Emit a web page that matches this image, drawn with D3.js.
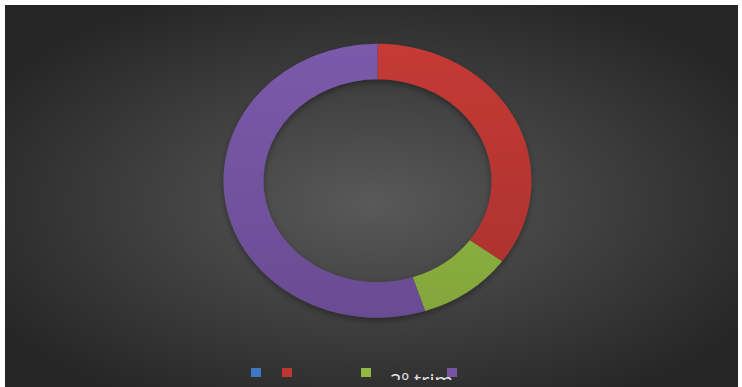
<!DOCTYPE html>
<html>
<head>
<meta charset="utf-8">
<script src="https://cdn.jsdelivr.net/npm/d3@7/dist/d3.min.js"></script>
<style>
  html, body { margin: 0; padding: 0; background: #ffffff; }
  svg { display: block; }
</style>
</head>
<body>
<svg id="chart"></svg>
<script>
// chart data
var categories = ["1º trim", "2º trim", "3º trim", "4º trim"];
var values = [0, 35, 10, 55];
var colors = ["#3f77c2", "#bb3732", "#92b843", "#7555a2"];
var legendLabels = ["", "", "2º trim", ""];

var W = 742, H = 387;
var svg = d3.select("#chart").attr("width", W).attr("height", H);
var defs = svg.append("defs");

// background gradient
var bg = defs.append("radialGradient").attr("id", "bg")
    .attr("cx", "50%").attr("cy", "52%").attr("r", "60%");
bg.append("stop").attr("offset", "0%").attr("stop-color", "#595959");
bg.append("stop").attr("offset", "100%").attr("stop-color", "#262626");

svg.append("rect")
    .attr("x", 5).attr("y", 5)
    .attr("width", 733).attr("height", H - 5)
    .attr("fill", "url(#bg)");

// slice shading, light at top, darker at bottom
colors.forEach(function (c, i) {
    var g = defs.append("linearGradient").attr("id", "sl" + i)
        .attr("gradientUnits", "userSpaceOnUse")
        .attr("x1", 0).attr("y1", -154).attr("x2", 0).attr("y2", 154);
    g.append("stop").attr("offset", "0%").attr("stop-color", d3.color(c).brighter(0.15));
    g.append("stop").attr("offset", "100%").attr("stop-color", d3.color(c).darker(0.3));
});

var shadow = defs.append("filter").attr("id", "shadow")
    .attr("x", "-20%").attr("y", "-20%").attr("width", "140%").attr("height", "140%");
shadow.append("feDropShadow").attr("dx", 0).attr("dy", 3)
    .attr("stdDeviation", 3).attr("flood-color", "#000").attr("flood-opacity", 0.35);

// donut (the reference is stretched horizontally)
var cx = 377.5, cy = 180.75;
var outerR = 154, innerR = 114;
var yScale = 137 / 154;

var pie = d3.pie().sort(null).value(function (d) { return d; });
var arc = d3.arc().innerRadius(innerR).outerRadius(outerR);

var gRing = svg.append("g")
    .attr("filter", "url(#shadow)")
    .append("g")
    .attr("transform", "translate(" + cx + "," + cy + ") scale(1," + yScale + ")");

gRing.selectAll("path")
    .data(pie(values))
    .join("path")
    .attr("d", arc)
    .attr("fill", function (d, i) { return "url(#sl" + i + ")"; });

// legend
defs.append("clipPath").attr("id", "legclip")
    .append("rect").attr("x", 5).attr("y", 355).attr("width", 733).attr("height", 25);

var legendX = d3.scaleOrdinal()
    .domain(categories)
    .range([251, 282, 361, 447]);

var leg = svg.append("g").attr("clip-path", "url(#legclip)");

leg.selectAll("rect")
    .data(categories)
    .join("rect")
    .attr("x", function (d) { return legendX(d); })
    .attr("y", 368)
    .attr("width", 10).attr("height", 9)
    .attr("fill", function (d, i) { return colors[i]; });

leg.selectAll("text")
    .data(categories)
    .join("text")
    .attr("x", function (d) { return legendX(d) + 29; })
    .attr("y", 388)
    .attr("font-family", "'Open Sans', sans-serif")
    .attr("font-size", 20)
    .attr("fill", "#e6e6e6")
    .text(function (d, i) { return legendLabels[i]; });
</script>
</body>
</html>
